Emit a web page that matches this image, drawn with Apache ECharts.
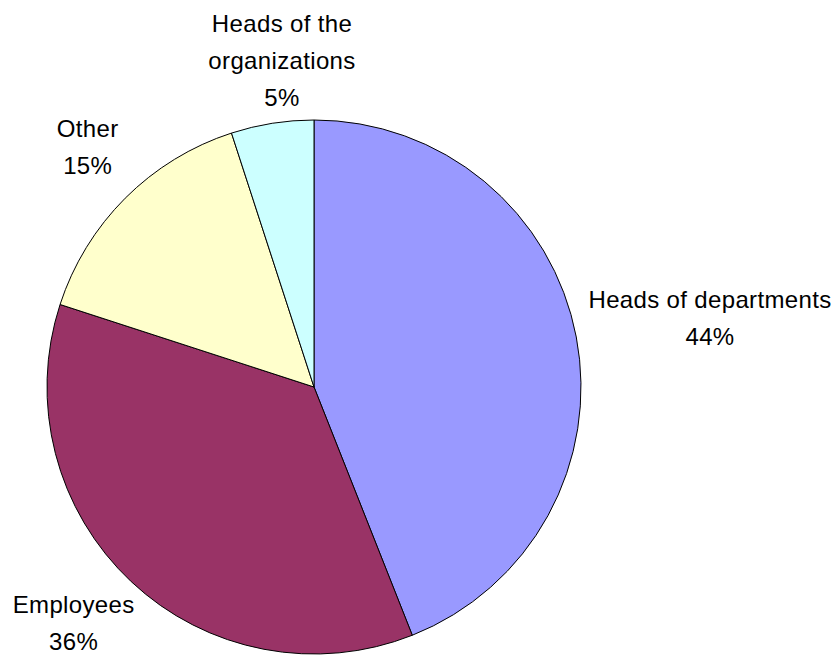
<!DOCTYPE html>
<html>
<head>
<meta charset="utf-8">
<script src="https://cdn.jsdelivr.net/npm/echarts@6/dist/echarts.min.js"></script>
<style>
  html, body { margin: 0; padding: 0; background: #fff; }
  #chart { width: 837px; height: 658px; }
  #chart text { letter-spacing: 0.35px; }
</style>
</head>
<body>
<div id="chart"></div>
<script>
// ---- data ----
const categories = ['Heads of departments', 'Employees', 'Other', 'Heads of the\norganizations'];
const values = [44, 36, 15, 5];
const colors = ['#9999FF', '#993366', '#FFFFCC', '#CCFFFF'];

// ---- layout ----
const CX = 314, CY = 387, R = 267;
// label placement: [angle offset from slice mid-angle (deg), distance from centre (px)]
const labelPlacement = [[0.9, 402], [2.3, 337], [1.7, 330], [3.4, 328]];

const total = values.reduce((a, b) => a + b, 0);
const midAngles = [];
let acc = 0;
values.forEach(v => { midAngles.push((acc + v / 2) / total * 360); acc += v; });

const chart = echarts.init(document.getElementById('chart'), null, { renderer: 'svg' });
chart.setOption({
  backgroundColor: '#ffffff',
  animation: false,
  series: [{
    type: 'pie',
    center: [CX, CY],
    radius: R,
    startAngle: 90,
    clockwise: true,
    avoidLabelOverlap: false,
    emphasis: { disabled: true },
    itemStyle: { borderColor: '#000000', borderWidth: 1 },
    label: {
      show: true,
      position: 'outside',
      color: '#000000',
      fontFamily: 'Liberation Sans, Arial, sans-serif',
      fontSize: 24,
      lineHeight: 37,
      formatter: p => p.name + '\n' + Math.round(p.percent) + '%'
    },
    labelLine: { show: false },
    labelLayout: function (params) {
      const i = params.dataIndex;
      const a = (midAngles[i] + labelPlacement[i][0]) * Math.PI / 180;
      const d = labelPlacement[i][1];
      return {
        x: CX + d * Math.sin(a),
        y: CY - d * Math.cos(a),
        align: 'center',
        verticalAlign: 'middle'
      };
    },
    data: categories.map((c, i) => ({ name: c, value: values[i], itemStyle: { color: colors[i] } }))
  }]
});
</script>
</body>
</html>
